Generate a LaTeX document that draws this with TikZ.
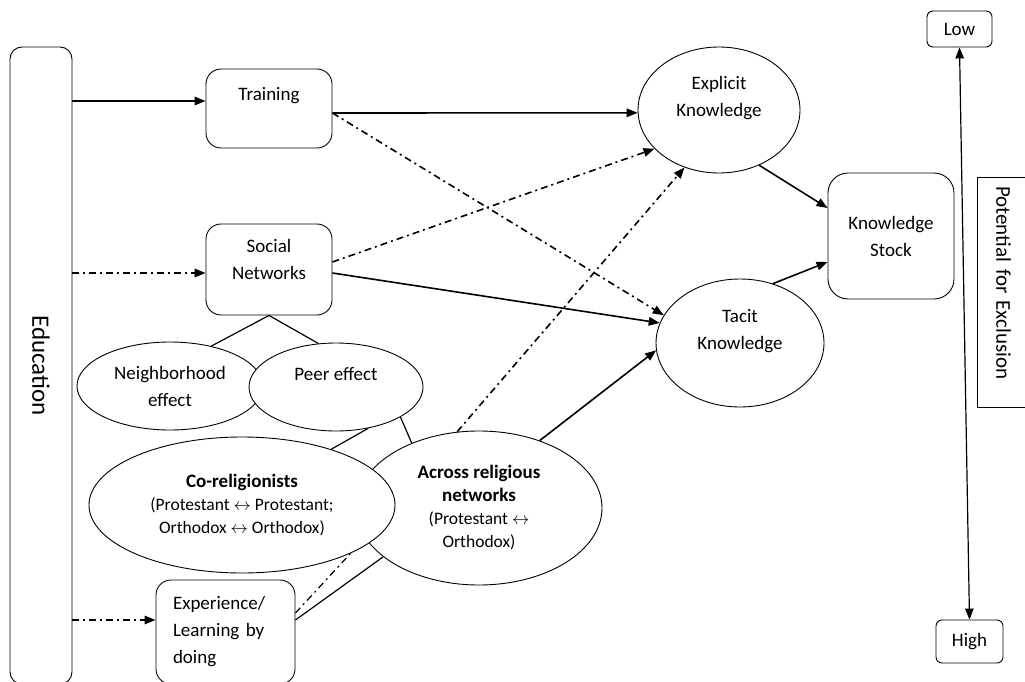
\documentclass[tikz,border=0pt]{standalone}
\usepackage{fontspec}
\setmainfont{Carlito}
\usetikzlibrary{shapes,arrows.meta}
\newcommand\boldline{\fontsize{19}{23}\selectfont\bfseries}

\begin{document}
\begin{tikzpicture}[x=1pt,y=-1pt,
  every node/.style={font=\fontsize{19}{27}\selectfont},
  box/.style={draw,line width=0.9pt,rounded corners=15pt,align=center,inner sep=0pt},
  oval/.style={draw,ellipse,fill=white,line width=0.9pt,align=center,inner sep=0pt},
  arr/.style={line width=1.6pt,-{Triangle[length=11pt,width=8.5pt]}},
  dashdot/.style={dash pattern=on 7pt off 4pt on 2pt off 4pt},
  plain/.style={line width=1.2pt}]
\useasboundingbox (0,0) rectangle (1025,682);

\node[box,rotate=-90,minimum width=637pt,minimum height=62pt,rounded corners=12pt,font=\fontsize{25}{30}\selectfont] (edu) at (41,365.5) {Education};
\node[box,minimum width=126pt,minimum height=79pt] (train) at (269,108.5) {Training\\[3pt]\mbox{}};
\node[box,minimum width=126pt,minimum height=91pt] (social) at (269,269.5) {Social\\Networks\\[-6pt]\mbox{}};
\node[oval,minimum width=186pt,minimum height=88pt] (neigh) at (170,386) {Neighborhood\\effect};
\node[oval,minimum width=174pt,minimum height=88pt] (peer) at (336,387) {Peer effect\\\mbox{}};
\node[oval,minimum width=246pt,minimum height=154pt,font=\fontsize{17.5}{23}\selectfont] (across) at (479,508)
  {{\boldline Across religious}\\{\boldline networks}\\(Protestant $\leftrightarrow$\\Orthodox)};
\node[oval,minimum width=306pt,minimum height=136pt,font=\fontsize{17.5}{23}\selectfont] (coreg) at (242,505)
  {{\boldline Co-religionists}\\(Protestant $\leftrightarrow$ Protestant;\\Orthodox $\leftrightarrow$ Orthodox)};
\node[box,minimum width=139pt,minimum height=104pt,text width=105pt,inner xsep=17pt,align=left] (exp) at (225.5,632)
  {Experience/\\Learning by\\doing};
\node[oval,minimum width=162pt,minimum height=126pt] (expl) at (719,110) {Explicit\\Knowledge\\\mbox{}};
\node[oval,minimum width=168pt,minimum height=128pt] (tacit) at (740,343) {Tacit\\Knowledge\\\mbox{}};
\node[box,minimum width=126pt,minimum height=126pt,rounded corners=20pt] (stock) at (891,236) {Knowledge\\Stock};
\node[box,minimum width=65pt,minimum height=36pt,rounded corners=6pt] (low) at (959.5,29) {Low};
\node[box,minimum width=67pt,minimum height=43pt,rounded corners=6pt] (high) at (969.5,641.5) {High};
\node[box,rotate=-90,sharp corners,minimum width=230pt,minimum height=53pt,text width=212pt,inner xsep=9pt,align=left,
  font=\fontsize{21}{25}\selectfont] (excl) at (1003.5,292) {Potential for Exclusion};

\coordinate (tin) at ([yshift=7.5pt]train.west);
\coordinate (sin) at ([yshift=-3.5pt]social.west);
\coordinate (ein) at ([yshift=12pt]exp.west);
\draw[arr] (edu.north |- tin) -- (tin);
\draw[arr,dashdot] (edu.north |- sin) -- (sin);
\draw[arr,dashdot] (edu.north |- ein) -- (ein);

\path[arr] ([yshift=-4.5pt]train.east) edge (expl.182)
  ([yshift=-3.5pt]social.east) edge (tacit.166)
  (across.48) edge (tacit.185)
  (expl.-54) edge ([yshift=28pt]stock.west)
  (tacit.61) edge ([yshift=-26pt]stock.west);
\path[arr,dashdot] ([yshift=-4.5pt]train.east) edge (tacit.160)
  ([yshift=7.5pt]social.east) edge (expl.211)
  (across.106) edge (expl.239);

\draw[plain] (social.south) -- (neigh.44) (social.south) -- (peer.112);
\draw[plain] (peer.-52) -- (coreg.32) (peer.-25) -- (across.136);
\draw[plain,dashdot] ([yshift=19pt]exp.east) -- (coreg.-24);
\draw[plain] ([yshift=12pt]exp.east) -- (across.207);

\draw[line width=1.2pt,{Triangle[length=11pt,width=8.5pt]}-{Triangle[length=11pt,width=8.5pt]}] (low.south) -- (high.north);
\end{tikzpicture}
\end{document}
